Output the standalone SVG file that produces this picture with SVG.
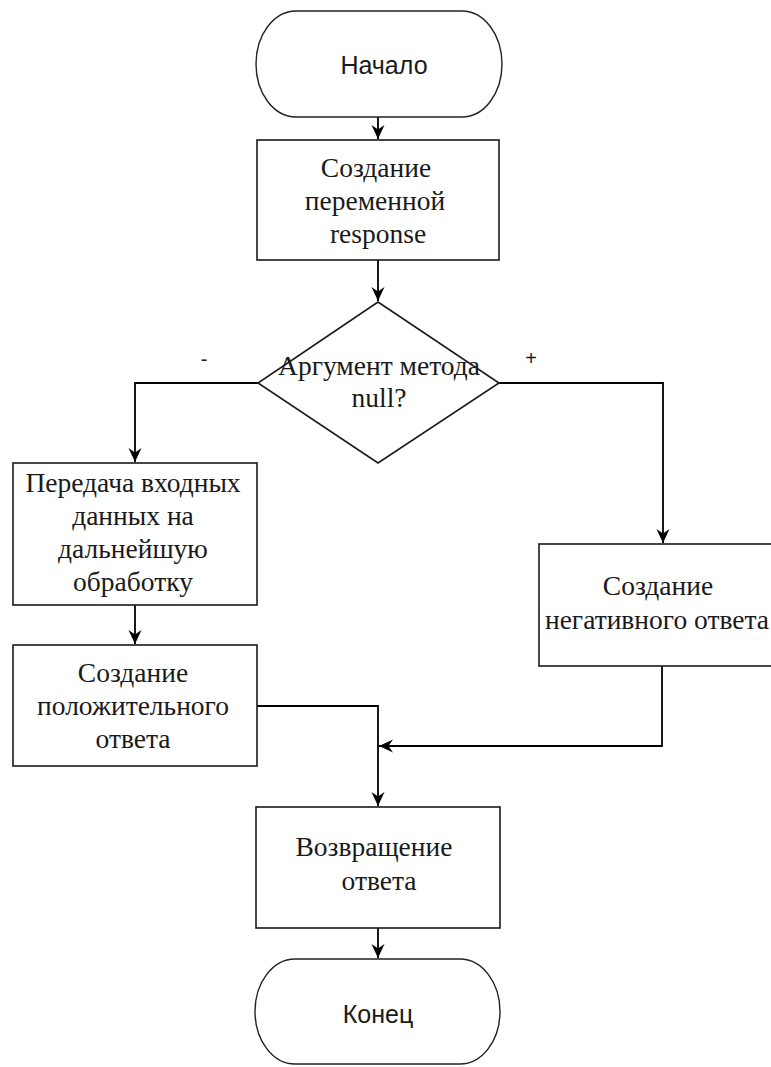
<svg xmlns="http://www.w3.org/2000/svg" width="771" height="1067" viewBox="0 0 771 1067">
  <style>
    .shape { fill: #ffffff; stroke: #1a1a1a; stroke-width: 1.6; }
    .term { fill: #ffffff; stroke: #222222; stroke-width: 1.4; }
    .edge { fill: none; stroke: #000000; stroke-width: 1.8; }
    .serif { font-family: "Liberation Serif", "Times New Roman", serif; font-size: 27.5px; fill: #1a1a1a; text-anchor: middle; }
    .sans { font-family: "Liberation Sans", Arial, sans-serif; font-size: 25px; fill: #1a1a1a; text-anchor: middle; }
    .mark { font-family: "Liberation Sans", Arial, sans-serif; font-size: 20px; fill: #1a1a1a; text-anchor: middle; }
  </style>
  <defs>
    <marker id="arrow" markerUnits="userSpaceOnUse" markerWidth="15" markerHeight="15" viewBox="0 0 15 15" refX="14" refY="7.5" orient="auto">
      <path d="M0,1 L14,7.5 L0,14 L4.5,7.5 Z" fill="#000000"/>
    </marker>
  </defs>

  <rect width="771" height="1067" fill="#ffffff"/>

  <!-- connectors -->
  <g id="connectors">
    <path class="edge" d="M378,117 V139" marker-end="url(#arrow)"/>
    <path class="edge" d="M378,260 V301" marker-end="url(#arrow)"/>
    <path class="edge" d="M258,383 H135 V462" marker-end="url(#arrow)"/>
    <path class="edge" d="M499,383 H663 V543" marker-end="url(#arrow)"/>
    <path class="edge" d="M135,605 V644" marker-end="url(#arrow)"/>
    <path class="edge" d="M257,706 H378 V806" marker-end="url(#arrow)"/>
    <path class="edge" d="M662,666 V746 H379" marker-end="url(#arrow)"/>
    <path class="edge" d="M378,928 V958" marker-end="url(#arrow)"/>
    <text class="mark" x="204" y="366">-</text>
    <text class="mark" x="531" y="365">+</text>
  </g>

  <!-- start terminator -->
  <g id="start">
    <path class="term" d="M296,11 H462 A40,53 0 0 1 462,117 H296 A40,53 0 0 1 296,11 Z"/>
    <text class="sans" x="384" y="74">Начало</text>
  </g>

  <!-- variable creation -->
  <g id="create-response">
    <rect class="shape" x="257" y="140" width="242" height="120"/>
    <text class="serif" x="376" y="177">Создание</text>
    <text class="serif" x="375" y="210">переменной</text>
    <text class="serif" x="378" y="243">response</text>
  </g>

  <!-- decision -->
  <g id="decision">
    <path class="shape" d="M378,302 L499,383 L378,463 L258,383 Z"/>
    <text class="serif" x="379" y="375">Аргумент метода</text>
    <text class="serif" x="379" y="407">null?</text>
  </g>

  <!-- pass input on -->
  <g id="pass-input">
    <rect class="shape" x="13" y="463" width="244" height="142"/>
    <text class="serif" x="133" y="492">Передача входных</text>
    <text class="serif" x="133" y="525">данных на</text>
    <text class="serif" x="133" y="558">дальнейшую</text>
    <text class="serif" x="133" y="591">обработку</text>
  </g>

  <!-- positive response -->
  <g id="positive-response">
    <rect class="shape" x="13" y="645" width="244" height="121"/>
    <text class="serif" x="133" y="682">Создание</text>
    <text class="serif" x="133" y="715">положительного</text>
    <text class="serif" x="133" y="748">ответа</text>
  </g>

  <!-- negative response -->
  <g id="negative-response">
    <rect class="shape" x="539" y="544" width="246" height="122"/>
    <text class="serif" x="658" y="595">Создание</text>
    <text class="serif" x="657" y="629">негативного ответа</text>
  </g>

  <!-- return -->
  <g id="return-response">
    <rect class="shape" x="256" y="807" width="244" height="121"/>
    <text class="serif" x="374" y="856">Возвращение</text>
    <text class="serif" x="379" y="890">ответа</text>
  </g>

  <!-- end terminator -->
  <g id="end">
    <path class="term" d="M295,959 H460 A40,52.5 0 0 1 460,1064 H295 A40,52.5 0 0 1 295,959 Z"/>
    <text class="sans" x="378" y="1023">Конец</text>
  </g>
</svg>
